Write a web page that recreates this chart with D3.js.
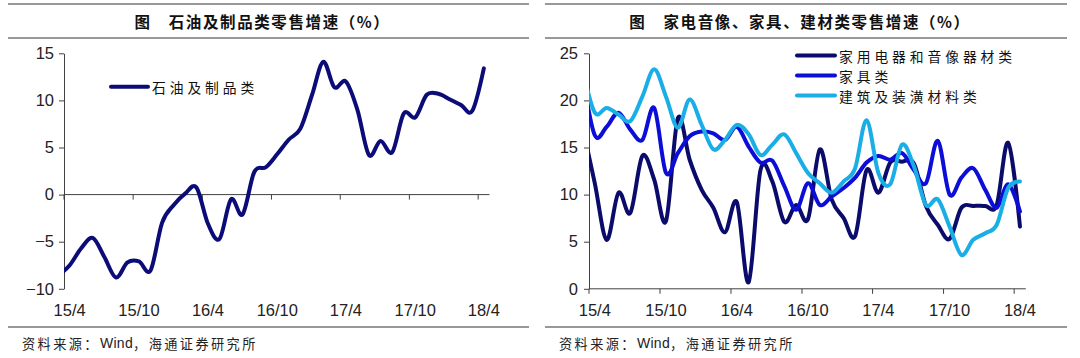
<!DOCTYPE html>
<html><head><meta charset="utf-8">
<script src="https://cdn.jsdelivr.net/npm/d3@7"></script>
<style>body{margin:0;background:#fff}svg{display:block}</style>
</head><body>
<svg id="c" width="1080" height="358"></svg>
<script>
// ---- data ----
// months 15/3 .. 18/4 (first one is outside the axis and clipped)
const months = d3.timeMonth.range(new Date(2015, 2, 1), new Date(2018, 4, 1));
const tickLabels = ["15/4", "15/10", "16/4", "16/10", "17/4", "17/10", "18/4"];
const oilTicks = [-10, -5, 0, 5, 10, 15];
const homeTicks = [0, 5, 10, 15, 20, 25];
const oilName = "石油及制品类";
const oil = [-8.6, -7.5, -5.7, -4.6, -6.6, -8.8, -7.2, -7.1, -8.05, -3.0, -1.1, 0.1, 0.75, -3.1, -4.7, -0.5, -2.1, 2.4, 2.9, 4.3,
  5.85, 7.0, 10.6, 14.1, 11.4, 12.0, 9.0, 4.2, 5.7, 4.5, 8.6, 8.2, 10.6, 10.7, 10.1, 9.5, 8.9, 13.4];
const homeNames = ["家用电器和音像器材类", "家具类", "建筑及装潢材料类"];
const appliance = [17, 11.2, 5.2, 10.2, 8.05, 14.1, 11.6, 7.2, 18.1, 13.7, 10.5, 8.6, 6.0, 9.2, 0.7, 12.6, 11.4, 7.1, 8.9, 7.4,
  14.8, 9.5, 7.5, 5.6, 12.6, 10.2, 13.4, 13.5, 13.3, 8.8, 6.8, 5.3, 8.6, 8.8, 8.8, 8.9, 15.5, 6.6];
const furniture = [22.5, 16.3, 17.2, 18.7, 16.9, 15.8, 19.2, 12.3, 14.4, 16.2, 16.7, 16.5, 15.8, 17.2, 15.1, 13.4, 13.6, 10.9, 8.4, 11.2,
  8.9, 9.8, 10.7, 11.8, 13.4, 14.1, 13.7, 14.4, 12.6, 11.2, 15.7, 10.0, 11.8, 12.8, 10.5, 8.6, 11.1, 8.2];
const building = [23.2, 18.7, 19.2, 18.5, 17.8, 20.4, 23.3, 20.4, 17.1, 20.1, 17.4, 14.8, 15.8, 17.4, 16.4, 14.2, 15.3, 16.4, 14.4, 12.3,
  11.2, 10.2, 11.4, 12.8, 17.9, 12.3, 11.1, 15.3, 13.0, 8.9, 9.5, 6.6, 3.6, 5.2, 5.9, 6.8, 10.7, 11.4];
const titles = ["图　石油及制品类零售增速（%）", "图　家电音像、家具、建材类零售增速（%）"];
const sourceParts = ["资料来源：", "Wind", "，海通证券研究所"];

// ---- styles ----
const NUM = "'Liberation Sans', Arial, sans-serif";
const CJK = "'Noto Sans CJK SC', sans-serif";
const AX = "#404040";
const oilColor = "#0c0c78";
const homeColors = ["#0b0b6b", "#0d0dd8", "#1aaee6"];

const svg = d3.select("#c");
const defs = svg.append("defs");
const parseTick = s => { const [y, m] = s.split("/").map(Number); return new Date(2000 + y, m - 1, 1); };
const domainX = [new Date(2015, 3, 1), new Date(2018, 4, 1)];

function panel(cfg) {
  const g = svg.append("g");
  // rules
  [4, 38, 327].forEach(yy => g.append("line").attr("x1", cfg.px0).attr("x2", cfg.px1).attr("y1", yy).attr("y2", yy)
    .attr("stroke", "#333").attr("stroke-width", 1.2));
  g.append("text").attr("x", (cfg.px0 + cfg.px1) / 2 - 6).attr("y", 21).attr("text-anchor", "middle")
    .attr("dominant-baseline", "central").attr("font-family", CJK).attr("font-weight", "bold")
    .attr("font-size", 15.5).attr("letter-spacing", 1.6).attr("fill", "#111").text(cfg.title);
  const st = g.append("text").attr("x", cfg.px0 + 14).attr("y", 343).attr("dominant-baseline", "central")
    .attr("font-family", CJK).attr("font-size", 13.2).attr("fill", "#222");
  sourceParts.forEach((p, i) => st.append("tspan").attr("letter-spacing", i === 1 ? 0.3 : 2.4)
    .attr("font-family", i === 1 ? NUM : CJK).attr("font-size", i === 1 ? 14 : 13.2).text(p));

  const x = d3.scaleTime().domain(domainX).range([cfg.x0, cfg.x1]);
  const y = d3.scaleLinear().domain(cfg.yDomain).range([288.8, 53.3]);
  const mid = d => (x(d) + x(d3.timeMonth.offset(d, 1))) / 2;

  // y axis
  const ya = g.append("g").attr("transform", `translate(${cfg.x0},0)`)
    .call(d3.axisLeft(y).tickValues(cfg.yTicks).tickSize(5).tickSizeOuter(0).tickPadding(cfg.pad));
  ya.selectAll("path,line").attr("stroke", AX);
  ya.selectAll("text").attr("font-family", NUM).attr("font-size", 16.5).attr("fill", "#222");

  // x axis
  const y0 = y(cfg.xAt);
  g.append("line").attr("x1", x(domainX[0])).attr("x2", x(domainX[1])).attr("y1", y0).attr("y2", y0).attr("stroke", AX);
  const tickDates = tickLabels.map(parseTick);
  g.selectAll(".xt").data(tickDates).join("line").attr("x1", d => x(d)).attr("x2", d => x(d))
    .attr("y1", y0).attr("y2", y0 + 5).attr("stroke", AX);
  g.selectAll(".xl").data(tickLabels).join("text").attr("x", d => mid(parseTick(d))).attr("y", 316)
    .attr("text-anchor", "middle").attr("font-family", NUM).attr("font-size", 16.5).attr("fill", "#222").text(d => d);

  // clip
  const id = "clip" + cfg.x0;
  defs.append("clipPath").attr("id", id).append("rect").attr("x", cfg.x0).attr("y", 40)
    .attr("width", x(domainX[1]) - cfg.x0 + 10).attr("height", 260);
  const line = d3.line().x((d, i) => mid(months[i])).y(d => y(d)).curve(d3.curveCardinal.tension(0));
  cfg.series.forEach((s, k) => {
    g.append("path").attr("clip-path", `url(#${id})`).attr("d", line(s)).attr("fill", "none")
      .attr("stroke", cfg.colors[k]).attr("stroke-width", 4).attr("stroke-linejoin", "round").attr("stroke-linecap", "round");
  });
  // legend
  cfg.names.forEach((n, k) => {
    const ly = cfg.legY + k * 20;
    g.append("line").attr("x1", cfg.legX).attr("x2", cfg.legX + cfg.legW).attr("y1", ly).attr("y2", ly)
      .attr("stroke", cfg.colors[k]).attr("stroke-width", 4).attr("stroke-linecap", "round");
    g.append("text").attr("x", cfg.legX + cfg.legW + 4).attr("y", ly).attr("dominant-baseline", "central")
      .attr("font-family", CJK).attr("font-size", 13.8).attr("letter-spacing", 3.9).attr("fill", "#111").text(n);
  });
}

panel({px0: 8, px1: 529, title: titles[0], x0: 64, x1: 489.5, yDomain: [-10, 15], yTicks: oilTicks, pad: 5, xAt: 0,
  series: [oil], colors: [oilColor], names: [oilName], legX: 111, legW: 37, legY: 86.7});
panel({px0: 545, px1: 1067, title: titles[1], x0: 589, x1: 1025.8, yDomain: [0, 25], yTicks: homeTicks, pad: 6, xAt: 0,
  series: [appliance, furniture, building], colors: homeColors, names: homeNames, legX: 797, legW: 38, legY: 55.5});
</script>
</body></html>
